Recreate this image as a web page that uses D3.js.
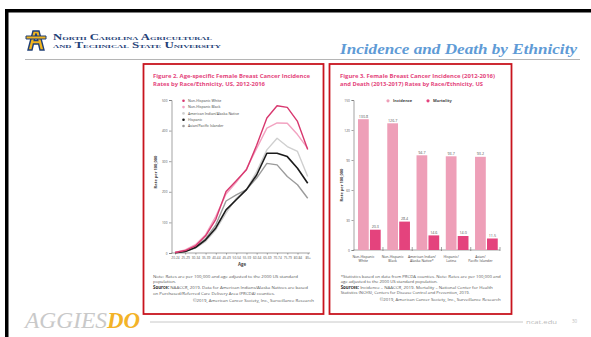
<!DOCTYPE html>
<html>
<head>
<meta charset="utf-8">
<script src="https://cdn.jsdelivr.net/npm/d3@7"></script>
<style>
  html, body { margin: 0; padding: 0; background: #fff; }
  svg { display: block; font-family: "Open Sans", "Liberation Sans", sans-serif; }
</style>
</head>
<body>
<svg id="slide" width="591" height="337"></svg>
<script>
// ---- Figure 2: age-specific incidence rates per 100,000 ----
const ageGroups = ["20-24","25-29","30-34","35-39","40-44","45-49","50-54","55-59","60-64","65-69","70-74","75-79","80-84","85+"];
const nhWhite  = [1.5, 8, 23, 56, 110, 201, 236, 272, 352, 441, 481, 476, 430, 338];
const nhBlack  = [2, 10, 27, 60, 120, 193, 231, 275, 342, 408, 425, 424, 387, 342];
const aiAn     = [1, 5, 16, 38, 76, 130, 179, 207, 266, 337, 375, 348, 332, 250];
const hispanic = [1, 5, 18, 43, 82, 141, 174, 207, 255, 326, 326, 315, 277, 228];
const asianPI  = [1, 5, 18, 47, 92, 170, 190, 207, 245, 293, 288, 250, 223, 179];
const lineSeriesNames = ["Non-Hispanic White","Non-Hispanic Black","American Indian/Alaska Native","Hispanic","Asian/Pacific Islander"];
const lineTicks = [0, 100, 200, 300, 400, 500];

// ---- Figure 3: incidence and mortality by race/ethnicity ----
const groups = ["Non-Hispanic White","Non-Hispanic Black","American Indian/Alaska Native*","Hispanic/Latina","Asian/Pacific Islander"];
const groupLabels = [["Non-Hispanic","White"],["Non-Hispanic","Black"],["American Indian/","Alaska Native*"],["Hispanic/","Latina"],["Asian/","Pacific Islander"]];
const incidence = [130.8, 126.7, 94.7, 93.7, 93.2];
const mortality = [20.3, 28.4, 14.6, 14.0, 11.5];
const barKeys = ["Incidence","Mortality"];
const barTicks = [0, 30, 60, 90, 120, 150];

const svg = d3.select("#slide");

// fitted text helper
function txt(g, x, y, s, o = {}) {
  const t = g.append("text").attr("x", x).attr("y", y).text(s)
    .attr("font-size", o.size || 4.3)
    .attr("fill", o.fill || "#555")
    .attr("font-weight", o.weight || "normal")
    .attr("text-anchor", o.anchor || "start");
  if (o.family) t.style("font-family", o.family);
  if (o.style) t.attr("font-style", o.style);
  if (o.len) t.attr("textLength", o.len).attr("lengthAdjust", "spacingAndGlyphs");
  return t;
}

// ---- slide frame ----
svg.append("rect").attr("x", 7).attr("y", 9).attr("width", 584).attr("height", 3.5).attr("fill", "#000");
svg.append("rect").attr("x", 5).attr("y", 9).attr("width", 3.5).attr("height", 328).attr("fill", "#000");

// university mark
const logo = svg.append("g").attr("transform", "translate(25,28)");
logo.append("path")
  .attr("d", "M3,22 L8,3 L14,3 L19,22 L15,22 L13.6,16 L8.4,16 L7,22 Z M9.2,12.5 L12.8,12.5 L11,5.5 Z")
  .attr("fill", "#f2b51e").attr("stroke", "#1f3f77").attr("stroke-width", 1.4).attr("fill-rule", "evenodd");
logo.append("path").attr("d", "M1,8 L21,8 L21,11 L1,11 Z").attr("fill", "#f2b51e").attr("stroke", "#1f3f77").attr("stroke-width", 1);

const serif = '"Liberation Serif", "DejaVu Serif", serif';
txt(svg, 53, 39.5, "North Carolina Agricultural", { size: 7.6, fill: "#1f3f77", weight: "bold", family: serif, len: 159 })
  .style("font-variant", "small-caps");
txt(svg, 53, 47.8, "and Technical State University", { size: 7.6, fill: "#1f3f77", weight: "bold", family: serif, len: 168 })
  .style("font-variant", "small-caps");

txt(svg, 577, 54, "Incidence and Death by Ethnicity", { size: 15, fill: "#5f9bd6", weight: "bold", style: "italic", family: serif, anchor: "end", len: 237 });
svg.append("line").attr("x1", 25).attr("x2", 580).attr("y1", 59.5).attr("y2", 59.5).attr("stroke", "#b5b5b5").attr("stroke-width", 1);

// footer
txt(svg, 25, 328, "AGGIES", { size: 24, fill: "#c9c9c9", style: "italic", family: serif, len: 82 });
txt(svg, 107, 328, "DO", { size: 24, fill: "#f3b328", weight: "bold", style: "italic", family: serif, len: 33 });
svg.append("line").attr("x1", 150).attr("x2", 523).attr("y1", 322).attr("y2", 322).attr("stroke", "#c8c8c8").attr("stroke-width", 1);
txt(svg, 526, 324, "ncat.edu", { size: 6, fill: "#bbb", len: 31 });
txt(svg, 572, 323, "30", { size: 4.5, fill: "#bbb" });

// panel frames
svg.append("rect").attr("x", 143.5).attr("y", 64).attr("width", 180).attr("height", 250)
  .attr("fill", "#fff").attr("stroke", "#c8141e").attr("stroke-width", 1.8);
svg.append("rect").attr("x", 329.5).attr("y", 64).attr("width", 182).attr("height", 250)
  .attr("fill", "#fff").attr("stroke", "#c8141e").attr("stroke-width", 1.8);

const pink = "#e4457c";

// ================= Figure 2 =================
const f2 = svg.append("g");
txt(f2, 153, 78, "Figure 2. Age-specific Female Breast Cancer Incidence", { size: 5.6, fill: pink, weight: "bold", len: 157 });
txt(f2, 153, 86, "Rates by Race/Ethnicity, US, 2012-2016", { size: 5.6, fill: pink, weight: "bold", len: 112 });

const xL = d3.scalePoint().domain(ageGroups).range([175, 307.7]);
const yL = d3.scaleLinear().domain([0, 500]).range([253, 100]);

const yAxL = f2.append("g").attr("transform", "translate(171.5,0)")
  .call(d3.axisLeft(yL).tickValues(lineTicks).tickSize(2.5).tickPadding(1.5));
const xAxL = f2.append("g").attr("transform", "translate(0,253)")
  .call(d3.axisBottom(xL).tickSize(1.5).tickPadding(2.5));
xAxL.select(".domain").attr("d", "M171.5,0H310");
[yAxL, xAxL].forEach(a => {
  a.selectAll(".domain, line").attr("stroke", "#666").attr("stroke-width", 0.6);
  a.selectAll("text").attr("font-size", 3.2).attr("fill", "#555").style("font-family", '"Open Sans", sans-serif');
});
txt(f2, 242, 266, "Age", { size: 4.4, fill: "#444", weight: "bold", anchor: "middle" });
txt(f2, 0, 0, "Rate per 100,000", { size: 4, fill: "#444", weight: "bold", anchor: "middle" })
  .attr("transform", "translate(157,172) rotate(-90)");

const lineColors = ["#d8386f", "#f2a3c1", "#cfcfcf", "#1b1b1b", "#9b9b9b"];
const lineWidths = [1.4, 1.4, 1.4, 1.6, 1.4];
const lineData = [nhWhite, nhBlack, aiAn, hispanic, asianPI];
const lineGen = d3.line().x((d, i) => xL(ageGroups[i])).y(d => yL(d));
// draw back to front so the white-women line sits on top
[2, 4, 3, 1, 0].forEach(k => {
  f2.append("path").datum(lineData[k]).attr("d", lineGen)
    .attr("fill", "none").attr("stroke", lineColors[k]).attr("stroke-width", lineWidths[k])
    .attr("stroke-linejoin", "round");
});

// legend
lineSeriesNames.forEach((n, i) => {
  const ly = 102 + i * 6.3;
  f2.append("circle").attr("cx", 183.5).attr("cy", ly - 1.2).attr("r", 1.3).attr("fill", lineColors[i]);
  txt(f2, 188, ly, n, { size: 3.6, fill: "#444" });
});

// notes
const nl = f2.append("g");
txt(nl, 153, 277.5, "Note: Rates are per 100,000 and age adjusted to the 2000 US standard", { len: 145 });
txt(nl, 153, 283, "population.", {});
const s1 = txt(nl, 153, 289, "", { len: 155 });
s1.append("tspan").attr("font-weight", "bold").attr("fill", "#333").text("Source: ");
s1.append("tspan").text("NAACCR, 2019. Data for American Indians/Alaska Natives are based");
txt(nl, 153, 295.3, "on Purchased/Referred Care Delivery Area (PRCDA) counties.", { len: 122 });
txt(nl, 314, 302, "©2019, American Cancer Society, Inc., Surveillance Research", { anchor: "end", len: 121 });

// ================= Figure 3 =================
const f3 = svg.append("g");
txt(f3, 340, 78, "Figure 3. Female Breast Cancer Incidence (2012-2016)", { size: 5.6, fill: pink, weight: "bold", len: 155 });
txt(f3, 340, 86, "and Death (2013-2017) Rates by Race/Ethnicity, US", { size: 5.6, fill: pink, weight: "bold", len: 143 });

const x0 = d3.scaleBand().domain(groups).range([353.7, 500]);
const x1 = d3.scaleBand().domain(barKeys).range([4.3, 27]).paddingInner(0.1);
const yB = d3.scaleLinear().domain([0, 150]).range([250, 100]);
const barColors = { Incidence: "#ee9fb8", Mortality: "#e4437d" };

const yAxB = f3.append("g").attr("transform", "translate(353.5,0)")
  .call(d3.axisLeft(yB).tickValues(barTicks).tickSize(2).tickPadding(1.5));
yAxB.selectAll(".domain, line").attr("stroke", "#666").attr("stroke-width", 0.6);
yAxB.selectAll("text").attr("font-size", 3.3).attr("fill", "#555").style("font-family", '"Open Sans", sans-serif');
f3.append("line").attr("x1", 353.5).attr("x2", 500).attr("y1", 250).attr("y2", 250).attr("stroke", "#666").attr("stroke-width", 0.6);
groups.forEach(g => {
  const gx = x0(g) + x0.bandwidth();
  f3.append("line").attr("x1", gx).attr("x2", gx).attr("y1", 247).attr("y2", 251).attr("stroke", "#666").attr("stroke-width", 0.6);
});
txt(f3, 0, 0, "Rate per 100,000", { size: 4, fill: "#444", weight: "bold", anchor: "middle" })
  .attr("transform", "translate(342.5,185) rotate(-90)");

const rows = groups.map((g, i) => ({ g, Incidence: incidence[i], Mortality: mortality[i] }));
const gg = f3.selectAll("g.grp").data(rows).join("g").attr("class", "grp")
  .attr("transform", d => `translate(${x0(d.g)},0)`);
gg.selectAll("rect").data(d => barKeys.map(k => ({ k, v: d[k] }))).join("rect")
  .attr("x", d => x1(d.k)).attr("width", x1.bandwidth())
  .attr("y", d => yB(d.v)).attr("height", d => yB(0) - yB(d.v))
  .attr("fill", d => barColors[d.k]);
gg.selectAll("text.val").data(d => barKeys.map(k => ({ k, v: d[k] }))).join("text").attr("class", "val")
  .attr("x", d => x1(d.k) + x1.bandwidth() / 2).attr("y", d => yB(d.v) - 1.6)
  .attr("text-anchor", "middle").attr("font-size", 3.7).attr("fill", "#555")
  .text(d => d.v.toFixed(1));

groups.forEach((g, i) => {
  const cx = x0(g) + x0.bandwidth() * 0.33;
  groupLabels[i].forEach((s, j) => txt(f3, cx, 257.5 + j * 4.8, s, { size: 3.5, fill: "#444", anchor: "middle" }));
});

// legend
barKeys.forEach((k, i) => {
  const lx = 388 + i * 40;
  f3.append("circle").attr("cx", lx).attr("cy", 100.8).attr("r", 1.6).attr("fill", barColors[k]);
  txt(f3, lx + 5, 102.2, k, { size: 4, fill: "#444", weight: "bold" });
});

// notes
const nr = f3.append("g");
txt(nr, 340.7, 277.5, "*Statistics based on data from PRCDA counties. Note: Rates are per 100,000 and", { len: 160 });
txt(nr, 340.7, 282.5, "age adjusted to the 2000 US standard population.", { len: 97 });
const s2 = txt(nr, 340.7, 288.5, "", { len: 152 });
s2.append("tspan").attr("font-weight", "bold").attr("fill", "#333").text("Sources: ");
s2.append("tspan").text("Incidence – NAACCR, 2019. Mortality – National Center for Health");
txt(nr, 340.7, 294.3, "Statistics (NCHS), Centers for Disease Control and Prevention, 2019.", { len: 129 });
txt(nr, 500.7, 301, "©2019, American Cancer Society, Inc., Surveillance Research", { anchor: "end", len: 121 });
</script>
</body>
</html>
